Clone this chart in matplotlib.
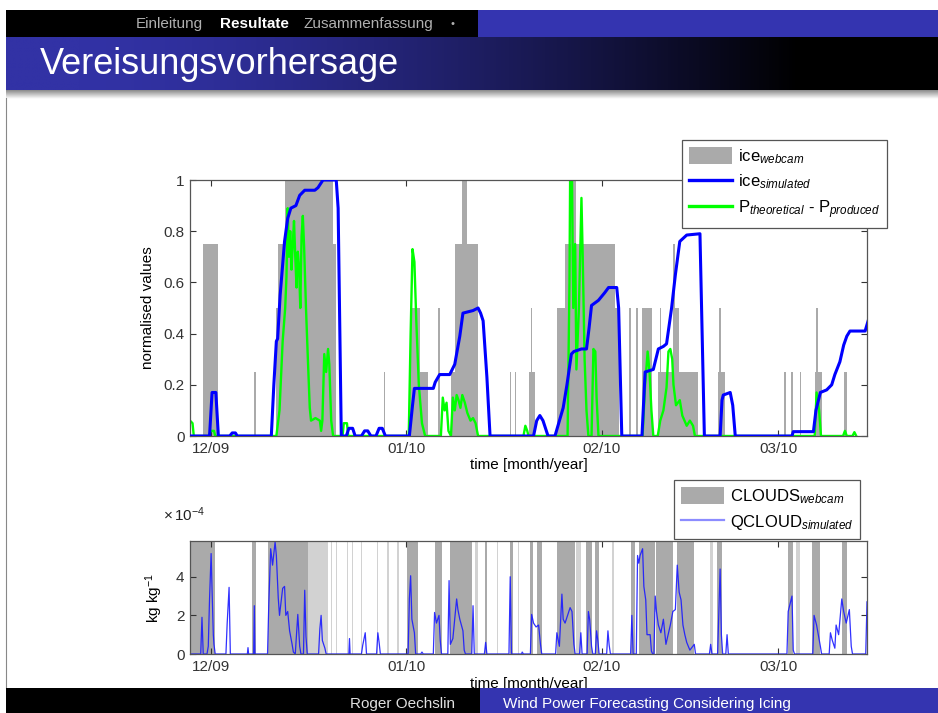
import matplotlib
matplotlib.use('Agg')
import matplotlib.pyplot as plt
import numpy as np
from matplotlib.patches import Rectangle, Patch
from matplotlib.lines import Line2D

plt.rcParams['font.family'] = ['Liberation Sans', 'DejaVu Sans']
plt.rcParams['mathtext.fontset'] = 'custom'
plt.rcParams['mathtext.rm'] = 'Liberation Sans'
plt.rcParams['mathtext.it'] = 'Liberation Sans:italic'
plt.rcParams['mathtext.bf'] = 'Liberation Sans:bold'

# ---------------- data (time in days since 1 Dec 2009) ----------------
month_ticks = [0, 31, 62, 90]
month_labels = ['12/09', '01/10', '02/10', '03/10']

# ice_webcam: gray bars (start day, end day, level)
web_start = [-1.3, 6.9, 10.4, 10.7, 11.7, 19.4, 27.5, 31.6, 33.2, 36.1, 38.1, 38.7, 39.8, 40.6,
             47.4, 48.2, 50.5, 50.8, 54.9, 56.2, 57.1, 57.9, 64.1, 66.4, 67.5, 68.4, 71.0, 71.2,
             73.4, 73.4, 80.5, 80.7, 91.0, 92.1, 93.4, 95.9, 96.0, 100.4]
web_end = [1.2, 7.1, 10.7, 11.7, 19.4, 19.9, 27.7, 33.2, 34.5, 36.3, 38.7, 39.8, 40.6, 42.4,
           47.6, 48.4, 51.4, 51.0, 56.2, 57.1, 57.9, 64.1, 64.8, 66.6, 67.7, 70.0, 77.3, 71.4,
           74.2, 73.6, 81.6, 80.9, 91.2, 92.3, 93.6, 96.9, 96.3, 100.9]
web_level = [0.75, 0.25, 0.5, 0.75, 1.0, 0.75, 0.25, 0.5, 0.25, 0.5, 0.25, 0.75, 1.0, 0.75,
             0.25, 0.25, 0.25, 0.5, 0.5, 0.75, 1.0, 0.75, 0.5, 0.5, 0.5, 0.5, 0.25, 0.5,
             0.5, 0.75, 0.25, 0.5, 0.25, 0.25, 0.25, 0.25, 0.5, 0.25]

# ice_simulated
ice_days = [-3.3, -0.2, 0.2, 0.8, 1.2, 3.0, 3.4, 3.9, 4.2, 9.6, 10.0, 10.4, 10.6, 11.0, 11.7, 12.2,
            12.7, 13.5, 14.1, 14.9, 16.5, 17.0, 17.8, 19.9, 20.2, 20.7, 21.5, 21.9, 22.5, 22.9,
            23.9, 24.4, 24.9, 25.4, 26.2, 26.7, 27.2, 27.7, 31.5, 32.0, 32.3, 35.3, 35.6, 36.3,
            37.9, 38.3, 38.7, 39.5, 40.0, 41.6, 42.4, 42.8, 43.2, 43.8, 44.3, 51.2, 51.7, 52.2,
            52.7, 53.5, 54.6, 55.9, 56.5, 57.2, 57.6, 58.8, 59.6, 60.0, 60.4, 61.5, 62.5, 63.1,
            64.4, 64.7, 65.2, 68.4, 68.9, 70.2, 71.0, 71.8, 72.3, 73.1, 73.7, 74.4, 75.5, 77.6,
            78.3, 80.8, 81.1, 81.3, 82.4, 82.8, 83.2, 92.2, 92.4, 95.6, 96.0, 96.7, 97.7, 98.5,
            99.0, 99.8, 100.4, 100.9, 101.4, 103.8, 104.4]
ice_vals = [0, 0, 0.17, 0.17, 0, 0, 0.012, 0.012, 0, 0, 0.2, 0.37, 0.38, 0.55, 0.76, 0.85,
            0.89, 0.9, 0.94, 0.96, 0.96, 0.97, 1.0, 1.0, 0.89, 0, 0, 0.03, 0.03, 0,
            0, 0.02, 0.02, 0, 0, 0.03, 0.03, 0, 0, 0.12, 0.186, 0.186, 0.21, 0.24,
            0.24, 0.26, 0.28, 0.39, 0.48, 0.49, 0.5, 0.48, 0.45, 0.23, 0, 0, 0.06, 0.08,
            0.06, 0, 0, 0.11, 0.2, 0.32, 0.33, 0.34, 0.34, 0.42, 0.51, 0.53, 0.56, 0.58,
            0.58, 0.5, 0, 0, 0.25, 0.26, 0.34, 0.35, 0.36, 0.5, 0.63, 0.76, 0.785, 0.79,
            0, 0, 0.14, 0.16, 0.17, 0.12, 0, 0, 0.017, 0.017, 0.1, 0.17, 0.18, 0.2,
            0.24, 0.29, 0.355, 0.39, 0.41, 0.41, 0.46]

# P_theoretical - P_produced
p_days = [-3.3, -2.9, -2.7, -0.3, 0.0, 0.5, 0.7, 10.4, 10.9, 11.4, 11.8, 12.0, 12.2, 12.4, 12.6,
          12.8, 13.0, 13.2, 13.4, 13.6, 13.8, 14.0, 14.2, 14.4, 14.6, 14.8, 15.1, 15.4, 15.7,
          15.9, 16.6, 17.3, 17.5, 17.7, 18.0, 18.3, 18.6, 18.8, 19.1, 19.4, 20.9, 21.1, 21.6,
          21.8, 31.4, 31.7, 32.0, 32.3, 32.6, 33.0, 33.5, 34.0, 36.5, 36.8, 37.1, 37.4, 37.7,
          38.1, 38.4, 38.7, 39.0, 39.3, 39.6, 39.9, 40.3, 40.7, 41.2, 41.6, 42.0, 42.4, 49.6,
          49.9, 50.2, 50.4, 56.6, 56.9, 57.0, 57.3, 57.5, 57.8, 58.0, 58.4, 58.8, 59.0, 59.3,
          59.6, 59.9, 60.4, 60.7, 61.0, 61.2, 61.5, 68.5, 68.9, 69.3, 69.6, 69.9, 70.2, 70.9,
          71.3, 71.8, 72.3, 72.6, 72.9, 73.2, 73.4, 73.8, 74.4, 74.8, 75.5, 76.0, 76.5, 76.8,
          95.8, 96.1, 96.5, 96.8, 100.3, 100.6, 100.9, 101.8, 102.1, 102.4]
p_vals = [0.06, 0.05, 0, 0, 0.02, 0.02, 0, 0, 0.1, 0.37, 0.5, 0.62, 0.89, 0.7, 0.8,
          0.65, 0.75, 0.84, 0.7, 0.58, 0.72, 0.66, 0.5, 0.78, 0.86, 0.74, 0.5, 0.3, 0.11,
          0.06, 0.07, 0.06, 0.02, 0.06, 0.32, 0.25, 0.34, 0.28, 0.06, 0, 0, 0.05, 0.05,
          0, 0, 0.4, 0.73, 0.68, 0.45, 0.2, 0.05, 0, 0, 0.15, 0.1, 0.13, 0.02,
          0, 0.15, 0.1, 0.16, 0.14, 0.11, 0.16, 0.13, 0.09, 0.06, 0.07, 0.05, 0, 0,
          0.04, 0.02, 0, 0, 0.6, 1.0, 1.0, 0.5, 0.75, 0.26, 0.5, 0.93, 0.7, 0.3,
          0.1, 0, 0, 0.34, 0.33, 0.15, 0, 0, 0.2, 0.33, 0.25, 0.1, 0, 0,
          0.06, 0.1, 0.19, 0.33, 0.34, 0.3, 0.2, 0.12, 0.14, 0.08, 0.04, 0.06, 0.04, 0,
          0, 0.17, 0.1, 0, 0, 0.02, 0, 0, 0.015, 0]

# CLOUDS_webcam spans (dark) and faint spans (light)
cloud_start = [-3.3, 6.6, 9.0, 31.2, 35.6, 37.9, 43.5, 47.5, 50.6, 51.7, 54.9, 59.5, 61.0, 66.6,
               67.9, 70.7, 73.9, 80.3, 91.6, 95.3, 100.1]
cloud_end = [0.6, 7.2, 15.4, 32.8, 36.6, 41.4, 43.8, 47.9, 51.1, 52.5, 57.8, 60.4, 61.6, 67.3,
             70.5, 73.4, 76.6, 81.1, 92.4, 96.7, 100.9]
faint_start = [15.4, 19.0, 19.8, 21.6, 22.4, 23.8, 26.4, 28.0, 29.6, 41.9, 45.4, 48.7, 58.0,
               63.6, 79.2, 92.9]
faint_end = [18.6, 19.2, 20.0, 21.8, 22.6, 24.0, 26.6, 28.2, 29.8, 42.4, 45.6, 48.9, 58.8,
             64.0, 79.7, 93.4]

# QCLOUD_simulated (units of 1e-4 kg/kg)
qc_days = [-3.3, -1.6, -1.4, -1.2, -0.6, -0.4, -0.2, 0.05, 0.2, 0.4, 0.5, 0.7, 2.4, 2.6, 2.9, 3.1,
           5.8, 5.9, 6.0, 6.8, 6.9, 7.0, 9.0, 9.2, 9.5, 9.8, 10.2, 10.4, 10.7, 10.9, 11.4, 11.7,
           11.9, 12.2, 12.5, 12.9, 13.1, 13.4, 13.8, 14.1, 14.3, 14.7, 14.9, 15.1, 15.3, 17.1,
           17.3, 17.5, 17.7, 18.1, 18.3, 21.9, 22.0, 22.1, 23.9, 24.1, 24.5, 24.7, 26.3, 26.5,
           26.7, 26.9, 31.3, 31.5, 31.7, 31.9, 32.3, 32.5, 33.3, 33.5, 33.7, 35.3, 35.5, 35.8,
           36.2, 36.4, 36.6, 37.6, 37.8, 38.0, 38.4, 38.6, 39.0, 39.2, 39.5, 40.0, 40.2, 40.4,
           41.4, 41.6, 41.8, 43.4, 43.6, 43.8, 47.3, 47.5, 47.7, 49.3, 49.4, 49.6, 50.7, 50.9,
           51.2, 51.6, 52.0, 52.3, 52.5, 54.7, 54.9, 55.3, 55.7, 55.9, 56.2, 56.6, 57.0, 57.3,
           57.6, 57.8, 58.5, 58.7, 58.9, 59.7, 59.9, 60.1, 60.4, 60.6, 61.0, 61.2, 61.4, 61.6,
           62.8, 63.0, 63.2, 63.4, 66.6, 66.8, 67.0, 67.5, 67.7, 67.9, 68.1, 68.5, 68.7, 69.0,
           69.2, 69.7, 69.9, 70.1, 70.3, 70.5, 70.7, 71.0, 71.4, 71.8, 72.2, 72.9, 73.3, 73.7,
           74.0, 74.3, 74.6, 74.9, 75.2, 75.5, 76.0, 76.7, 76.9, 79.1, 79.3, 79.5, 80.4, 80.6,
           80.8, 81.0, 81.2, 81.7, 81.9, 82.1, 91.4, 91.6, 92.2, 92.4, 92.6, 95.5, 95.7, 96.1,
           96.7, 96.9, 98.1, 98.3, 98.6, 99.0, 99.2, 99.6, 100.1, 100.4, 100.8, 101.3, 101.6,
           101.8, 103.9, 104.1]
qc_vals = [0, 0, 1.9, 0, 0, 0.4, 2.85, 5.2, 3.3, 1.0, 0.5, 0, 0, 1.6, 3.45, 0,
           0, 0.33, 0, 0, 2.5, 0, 0, 2.6, 5.45, 4.6, 5.8, 5.1, 2.9, 2.0, 3.4, 3.5,
           2.0, 2.2, 1.2, 0.5, 0.1, 0, 2.05, 0.4, 0, 0, 3.3, 0.9, 0, 0,
           1.3, 2.0, 0.7, 0.3, 0, 0, 0.8, 0, 0, 0.45, 1.1, 0, 0, 1.1,
           0.6, 0, 0, 2.85, 4.05, 1.8, 1.1, 0, 0, 0.1, 0, 0, 2.15, 1.6,
           2.0, 0.7, 0, 0, 3.8, 0.5, 0.8, 1.5, 2.85, 2.3, 1.8, 1.2, 0.2, 0,
           0, 2.5, 0, 0, 0.6, 0, 0, 4.0, 0, 0, 0.1, 0, 0, 2.05,
           1.6, 1.4, 1.5, 0.5, 0, 0, 1.1, 0.4, 3.1, 1.8, 1.6, 2.0, 2.4, 2.2,
           0.5, 0, 0, 1.1, 0, 0, 2.2, 1.8, 0.4, 0, 0, 1.2, 0.7, 0,
           0, 1.2, 0.45, 0, 0, 2.0, 0, 0, 5.1, 4.7, 5.1, 5.45, 3.5, 2.8,
           1.0, 1.0, 0.15, 0, 0, 3.0, 2.2, 1.5, 1.1, 1.8, 0.5, 1.5, 2.2, 2.3,
           4.6, 3.2, 2.8, 1.5, 1.0, 0.6, 0.2, 0.5, 0, 0, 0.5, 0, 0, 2.2,
           4.4, 1.0, 0, 0, 1.0, 0, 0, 2.2, 3.0, 0.2, 0, 0, 2.0, 1.5,
           0.4, 0, 0, 1.1, 0.7, 0.3, 1.5, 1.0, 2.85, 2.2, 1.6, 2.3, 0.4,
           0, 0, 2.7]

# ---------------- figure / slide ----------------
W, H = 938, 713
fig = plt.figure(figsize=(W / 100, H / 100), dpi=100)
fig.patch.set_facecolor('white')


def fx(px):
    return px / W


def fy(py):
    return 1 - py / H


def frect(x0, y0, x1, y1, color, z=2):
    fig.add_artist(Rectangle((fx(x0), fy(y1)), fx(x1 - x0), (y1 - y0) / H,
                             transform=fig.transFigure, facecolor=color,
                             edgecolor='none', zorder=z))


# header bars
frect(6, 10, 478, 37, 'black')
frect(478, 10, 938, 37, '#3434b0')
# title band gradient
band = fig.add_axes([fx(6), fy(90), fx(938 - 6), 53 / H])
band.set_axis_off()
t = np.linspace(0, 1, 400)
fac = np.clip(1 - np.clip((t - 0.08) / 0.77, 0, None) ** 1.5, 0, 1)
base = np.array([50, 50, 165]) / 255
grad = (fac[:, None] * base[None, :])[None, :, :]
band.imshow(grad, aspect='auto', extent=[0, 1, 0, 1])
band.set_xlim(0, 1)
band.set_ylim(0, 1)
# shadow under band
sh = fig.add_axes([fx(6), fy(99), fx(938 - 6), 9 / H])
sh.set_axis_off()
s = np.linspace(0, 1, 20)
shade = (0.55 + 0.45 * s)[:, None, None] * np.ones((1, 1, 3))
sh.imshow(shade, aspect='auto', extent=[0, 1, 0, 1])
# left edge line
fig.add_artist(Line2D([fx(6), fx(6)], [fy(98), fy(688)], transform=fig.transFigure,
                      color='#888888', lw=0.8, zorder=2))
# footer
frect(6, 688, 480, 713, 'black', z=4)
frect(480, 688, 938, 713, '#3434b0', z=4)

fig.text(fx(136), fy(24), 'Einleitung', color='#b0b0b0', fontsize=11, va='center', zorder=5)
fig.text(fx(220), fy(24), 'Resultate', color='white', fontsize=11, fontweight='bold',
         va='center', zorder=5)
fig.text(fx(303), fy(24), 'Zusammenfassung', color='#b0b0b0', fontsize=11, va='center', zorder=5)
fig.text(fx(450), fy(24), '•', color='#b0b0b0', fontsize=8, va='center', zorder=5)
fig.text(fx(40), fy(64), 'Vereisungsvorhersage', color='white', fontsize=26, va='center', zorder=5)
fig.text(fx(350), fy(704), 'Roger Oechslin', color='#e0e0e0', fontsize=11, va='center', zorder=5)
fig.text(fx(503), fy(704), 'Wind Power Forecasting Considering Icing', color='white',
         fontsize=11, va='center', zorder=5)

# ---------------- top axes ----------------
ax1 = fig.add_axes([fx(190), fy(436), fx(867 - 190), (436 - 180) / H])
widths = np.array(web_end) - np.array(web_start)
ax1.bar(web_start, web_level, width=widths, align='edge', color='#aaaaaa', linewidth=0, zorder=1)
ax1.plot(p_days, p_vals, color='#00ff00', lw=1.7, zorder=2)
ax1.plot(ice_days, ice_vals, color='#0000ff', lw=2.2, zorder=3)
ax1.set_xlim(-3.3, 104.1)
ax1.set_ylim(0, 1)
ax1.set_yticks([0, 0.2, 0.4, 0.6, 0.8, 1])
ax1.set_yticklabels(['0', '0.2', '0.4', '0.6', '0.8', '1'])
ax1.set_ylabel('normalised values', fontsize=11)
ax1.yaxis.set_label_coords(-0.052, 0.5)
ax1.set_xlabel('time [month/year]', fontsize=11, va='top')
ax1.xaxis.set_label_coords(0.5, -0.085)

# ---------------- bottom axes ----------------
ax2 = fig.add_axes([fx(190), fy(654), fx(867 - 190), (654 - 541) / H])
for a, b in zip(faint_start, faint_end):
    ax2.axvspan(a, b, color='#d2d2d2', lw=0, zorder=1)
for a, b in zip(cloud_start, cloud_end):
    ax2.axvspan(a, b, color='#aaaaaa', lw=0, zorder=1)
ax2.plot(qc_days, qc_vals, color='#1a1aff', lw=0.9, alpha=0.9, zorder=2)
ax2.set_xlim(-3.3, 104.1)
ax2.set_ylim(0, 5.85)
ax2.set_yticks([0, 2, 4])
ax2.set_yticklabels(['0', '2', '4'])
ax2.set_ylabel('kg kg$^{-1}$', fontsize=11)
ax2.yaxis.set_label_coords(-0.037, 0.5)
ax2.set_xlabel('time [month/year]', fontsize=11, va='top')
ax2.xaxis.set_label_coords(0.5, -0.2)
fig.text(fx(163), fy(515), r'$\times\,10^{-4}$', fontsize=11, va='center', color='#222222')

for ax in (ax1, ax2):
    ax.set_xticks(month_ticks)
    ax.set_xticklabels(month_labels)
    ax.tick_params(direction='in', top=True, right=True, length=4, width=0.8,
                   colors='#333333', labelsize=11, pad=4)
    for sp in ax.spines.values():
        sp.set_color('#555555')
        sp.set_linewidth(0.9)

# ---------------- legends ----------------
h1 = [Patch(facecolor='#aaaaaa', edgecolor='none'),
      Line2D([], [], color='#0000ff', lw=2.4),
      Line2D([], [], color='#00ff00', lw=2.4)]
l1 = [r'ice$_{\mathit{webcam}}$', r'ice$_{\mathit{simulated}}$',
      r'P$_{\mathit{theoretical}}$ - P$_{\mathit{produced}}$']
leg1 = fig.legend(h1, l1, loc='upper left', bbox_to_anchor=(fx(682), fy(140)),
                  fontsize=12, frameon=True, fancybox=False, framealpha=1,
                  edgecolor='#555555', handlelength=2.6, handleheight=1.2,
                  labelspacing=0.42, handletextpad=0.35, borderpad=0.4, borderaxespad=0)
leg1.get_frame().set_linewidth(0.9)

h2 = [Patch(facecolor='#aaaaaa', edgecolor='none'),
      Line2D([], [], color='#8c8cff', lw=1.6)]
l2 = [r'CLOUDS$_{\mathit{webcam}}$', r'QCLOUD$_{\mathit{simulated}}$']
leg2 = fig.legend(h2, l2, loc='upper left', bbox_to_anchor=(fx(674), fy(480)),
                  fontsize=12, frameon=True, fancybox=False, framealpha=1,
                  edgecolor='#555555', handlelength=2.6, handleheight=1.25,
                  labelspacing=0.42, handletextpad=0.35, borderpad=0.4, borderaxespad=0)
leg2.get_frame().set_linewidth(0.9)

fig.savefig('out.png', dpi=100)
